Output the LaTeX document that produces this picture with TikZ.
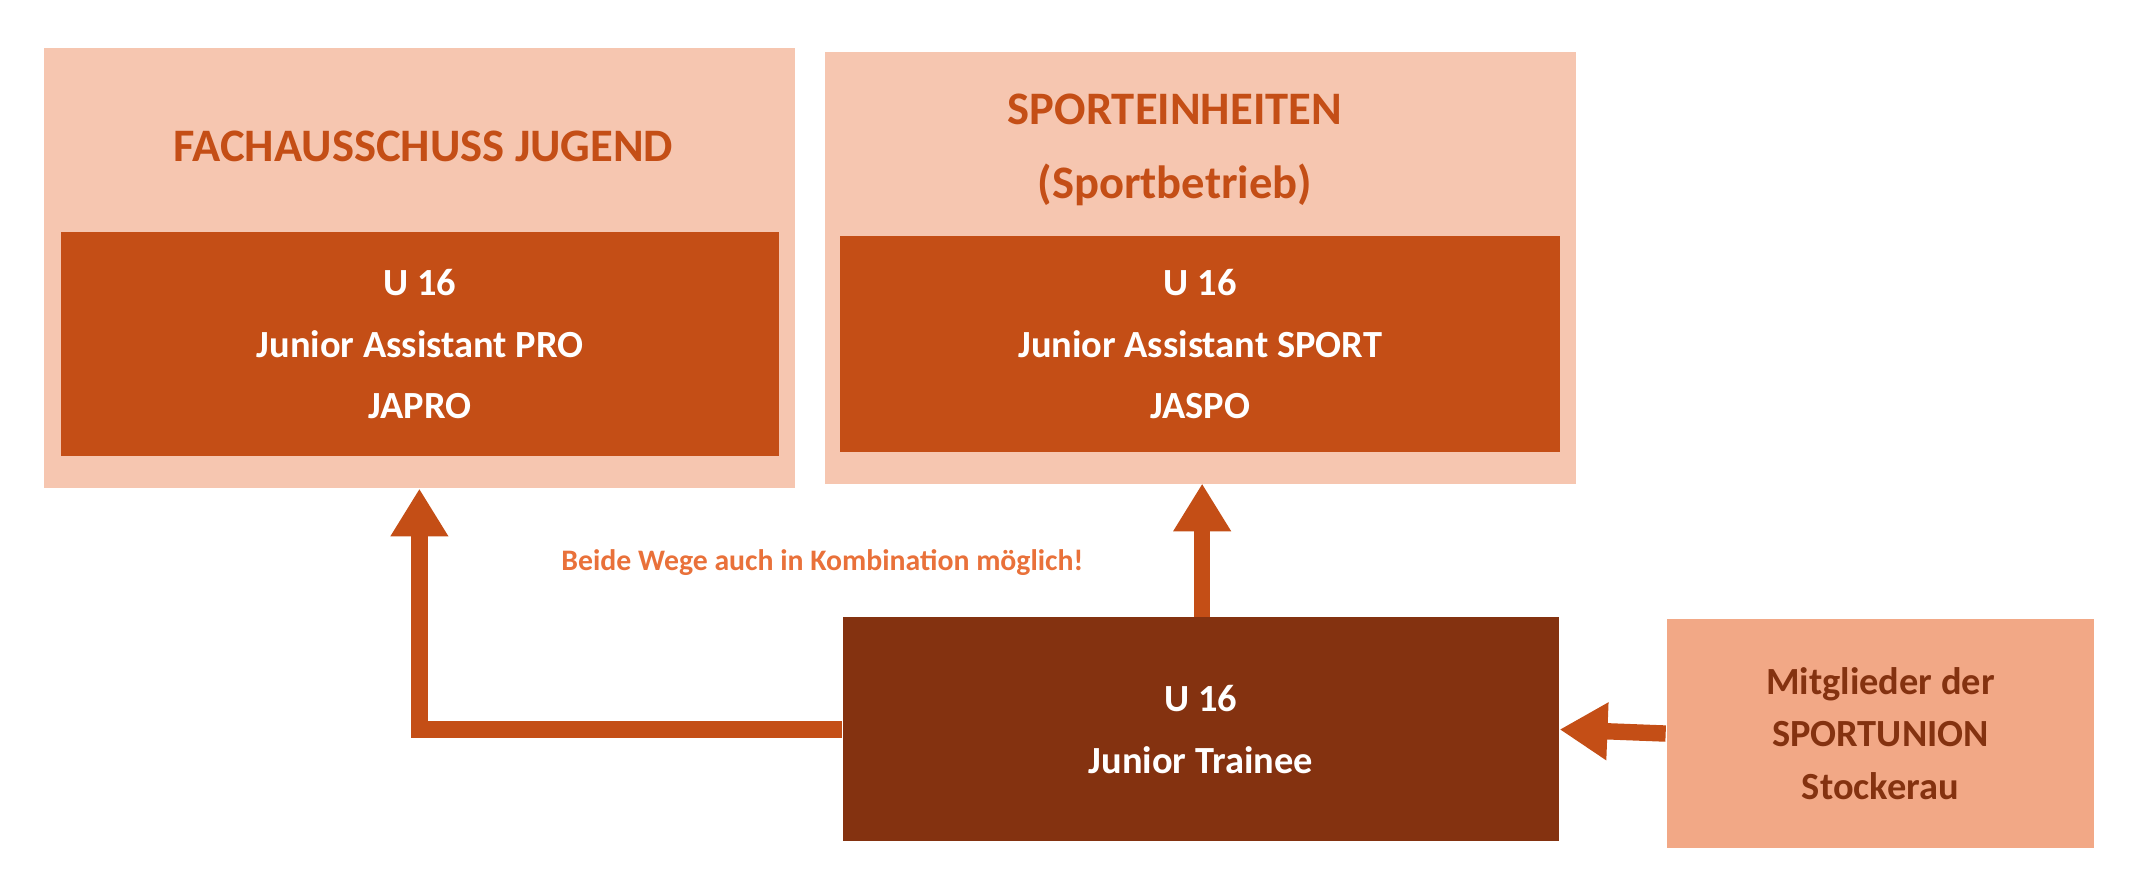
\documentclass[tikz,border=0pt]{standalone}
\usepackage{fontspec}
\setmainfont{Carlito}
\usetikzlibrary{arrows.meta}
\definecolor{light}{HTML}{F6C6B0}
\definecolor{mid}{HTML}{C44E16}
\definecolor{dark}{HTML}{843210}
\definecolor{peach}{HTML}{F2A886}
\definecolor{lbl}{HTML}{E9713A}
\tikzset{
 box/.style={inner sep=0pt,align=center,font=\bfseries\fontsize{8}{12.8}\selectfont},
 ttl/.style={inner sep=0pt,text=mid,font=\bfseries\fontsize{9.7}{12}\selectfont},
 arr/.style={draw=mid,line width=0.12cm,-{Triangle[width=0.4cm,length=0.35cm]}}
}
\begin{document}
\begin{tikzpicture}
\useasboundingbox (0,0) rectangle (15.68,6.39);
\node[box,fill=light,minimum width=5.50cm,minimum height=3.22cm] (louter) at (3.07,4.43) {};
\node[box,fill=mid,text=white,minimum width=5.25cm,minimum height=1.64cm] (linner) at (3.075,3.87) {U 16\\Junior Assistant PRO\\JAPRO};
\node[ttl] (ltitle) at (3.10,5.32) {FACHAUSSCHUSS JUGEND};
\node[box,fill=light,minimum width=5.50cm,minimum height=3.16cm] (router) at (8.79,4.43) {};
\node[box,fill=mid,text=white,minimum width=5.27cm,minimum height=1.58cm] (rinner) at (8.785,3.87) {U 16\\Junior Assistant SPORT\\JASPO};
\node[ttl] (rtitle1) at (8.60,5.59) {SPORTEINHEITEN};
\node[ttl] (rtitle2) at (8.60,5.04) {(Sportbetrieb)};
\node[box,fill=dark,text=white,minimum width=5.24cm,minimum height=1.64cm] (bottom) at (8.79,1.05) {U 16\\Junior Trainee};
\node[box,fill=peach,text=dark,minimum width=3.13cm,minimum height=1.68cm,font=\bfseries\fontsize{8}{11}\selectfont] (rbox) at (13.765,1.02) {Mitglieder der\\SPORTUNION\\Stockerau};
\node[inner sep=0pt,text=lbl,font=\bfseries\fontsize{6.2}{7}\selectfont] (lab) at (6.02,2.27) {Beide Wege auch in Kombination möglich!};
\coordinate (mstart) at (8.80,1.87);
\coordinate (mend) at (8.80,2.85);
\draw[arr] (bottom.west) -| (louter.south);
\draw[arr] (mstart) -- (mend);
\draw[arr] (rbox.west) -- (bottom.east);
\end{tikzpicture}
\end{document}
